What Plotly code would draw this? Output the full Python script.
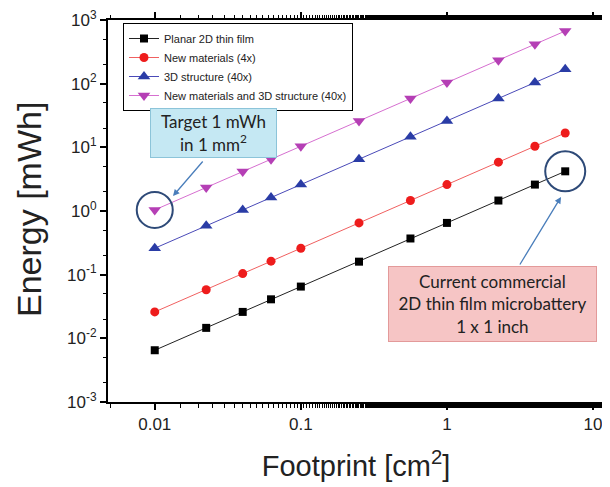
import plotly.graph_objects as go
import math

footprint = [0.01, 0.0225, 0.04, 0.0625, 0.1, 0.25, 0.5625, 1, 2.25, 4, 6.45]
planar_2d = [0.0065, 0.0146, 0.026, 0.041, 0.065, 0.16, 0.37, 0.65, 1.46, 2.6, 4.2]
new_materials = [0.026, 0.058, 0.104, 0.163, 0.26, 0.65, 1.46, 2.6, 5.85, 10.4, 16.8]
structure_3d = [0.26, 0.585, 1.04, 1.63, 2.6, 6.5, 14.6, 26, 58.5, 104, 168]
combined = [1.04, 2.34, 4.16, 6.5, 10.4, 26, 58.5, 104, 234, 416, 671]

series_names = ["Planar 2D thin film", "New materials (4x)", "3D structure (40x)",
                "New materials and 3D structure (40x)"]

y_tickvals = [1e-3, 1e-2, 1e-1, 1, 10, 100, 1000]
y_ticktext = ["10<sup>-3</sup>", "10<sup>-2</sup>", "10<sup>-1</sup>", "10<sup>0</sup>",
              "10<sup>1</sup>", "10<sup>2</sup>", "10<sup>3</sup>"]
x_tickvals = [0.01, 0.1, 1, 10]
x_ticktext = ["0.01", "0.1", "1", "10"]

styles = [
    dict(mc="#000000", lc="#222222", sym="square", size=8),
    dict(mc="#ee1c1c", lc="#f06060", sym="circle", size=9),
    dict(mc="#2a3ca6", lc="#4a4ab8", sym="triangle-up", size=11),
    dict(mc="#b53fb5", lc="#d66fd0", sym="triangle-down", size=11),
]

fig = go.Figure()
for name, vals, st in zip(series_names, [planar_2d, new_materials, structure_3d, combined], styles):
    fig.add_trace(go.Scatter(
        x=footprint, y=vals, name=name, mode="lines+markers",
        line=dict(color=st["lc"], width=1),
        marker=dict(color=st["mc"], symbol=st["sym"], size=st["size"]),
    ))

# page has an 8px body margin; figure is sized so the plot area lands on
# screen pixels x 108..604, y 20..402
OFF = 8
W, H = 602, 479
PL, PR, PT, PB = 108, 604, 20, 402          # plot area in screen pixels
L, T = PL - OFF, PT - OFF
R, B = (W + OFF) - PR, (H + OFF) - PB
pw, ph = PR - PL, PB - PT
XR = [-2.32, 1.075]
YR = [-3, 3]

def px(x):
    return (x - PL) / pw

def py(y):
    return (PB - y) / ph

def dpx(v):
    return (math.log10(v) - XR[0]) / (XR[1] - XR[0])

def dpy(v):
    return (math.log10(v) - YR[0]) / (YR[1] - YR[0])

axis_common = dict(
    type="log", showgrid=False, zeroline=False, automargin=False,
    showline=True, linecolor="black", linewidth=2, mirror="allticks",
    ticks="outside", ticklen=6, tickwidth=1.5, tickcolor="black",
    minor=dict(ticks="outside", ticklen=3.5, tickwidth=1, tickcolor="black", showgrid=False),
    tickfont=dict(family="Liberation Sans, Arial", size=17, color="#222"),
    ticklabeloverflow="allow",
)

fig.update_xaxes(range=XR, tickvals=x_tickvals, ticktext=x_ticktext,
                 title=dict(text="Footprint [cm<sup>2</sup>]", standoff=22,
                            font=dict(family="Liberation Sans, Arial", size=29, color="#222")),
                 **axis_common)
fig.update_yaxes(range=YR, tickvals=y_tickvals, ticktext=y_ticktext, ticklabelstandoff=0,
                 **axis_common)

# y-axis title
fig.add_annotation(xref="paper", yref="paper", x=px(29), y=py(210),
                   xanchor="center", yanchor="middle", textangle=-90,
                   text="Energy [mWh]", showarrow=False,
                   font=dict(family="Liberation Sans, Arial", size=34, color="#222"))

# circles highlighting points
for xv, yv, r in [(footprint[0], combined[0], 18), (footprint[-1], planar_2d[-1], 20)]:
    cx, cy = dpx(xv), dpy(yv)
    fig.add_shape(type="circle", xref="paper", yref="paper",
                  x0=cx - r / pw, x1=cx + r / pw, y0=cy - r / ph, y1=cy + r / ph,
                  line=dict(color="#2e4a78", width=2))

# text boxes
fig.add_annotation(xref="paper", yref="paper", x=px(213), y=py(133),
                   xanchor="center", yanchor="middle",
                   text="Target 1 mWh<br>in 1 mm<sup>2</sup>", showarrow=False,
                   font=dict(family="Lato, Carlito, sans-serif", size=17, color="#222"),
                   bgcolor="#c5e8f3", bordercolor="#8cc4d9", borderwidth=1,
                   width=123, height=46, align="center")
fig.add_annotation(xref="paper", yref="paper", x=px(492), y=py(304),
                   xanchor="center", yanchor="middle",
                   text="Current commercial<br>2D thin film microbattery<br>1 x 1 inch",
                   showarrow=False,
                   font=dict(family="Lato, Carlito, sans-serif", size=17, color="#222"),
                   bgcolor="#f6c5c5", bordercolor="#e39a9a", borderwidth=1,
                   width=205, height=72, align="center")

# arrows
fig.add_annotation(xref="paper", yref="paper", x=px(173), y=py(196), ax=31, ay=-36,
                   text="", showarrow=True, arrowhead=2, arrowsize=1, arrowwidth=1.3,
                   arrowcolor="#4a7ebb")
fig.add_annotation(xref="paper", yref="paper", x=px(561), y=py(197), ax=-42, ay=69,
                   text="", showarrow=True, arrowhead=2, arrowsize=1, arrowwidth=1.3,
                   arrowcolor="#4a7ebb")

fig.update_layout(
    width=W, height=H,
    margin=dict(l=L, r=R, t=T, b=B),
    paper_bgcolor="white", plot_bgcolor="white",
    font=dict(family="Liberation Sans, Arial", color="#222"),
    legend=dict(x=px(123), y=py(23), xanchor="left", yanchor="top",
                bordercolor="black", borderwidth=1, bgcolor="white",
                font=dict(family="Liberation Sans, Arial", size=11, color="#222"),
                tracegroupgap=0, itemwidth=30),
    showlegend=True,
)

fig.write_html("out.html")
